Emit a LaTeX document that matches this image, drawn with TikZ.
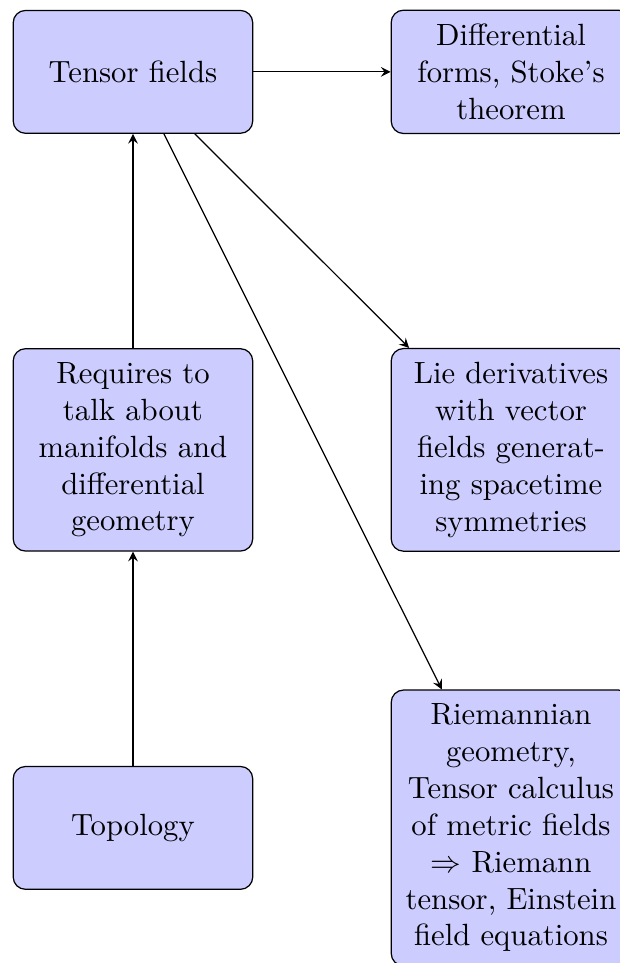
\documentclass[tikz,border=0pt]{standalone}
\begin{document}
\begin{tikzpicture}[line cap=round,line join=round,>=stealth,
	block/.style={rectangle,draw,fill=blue!20,text width=7em,inner xsep=4pt,inner ysep=4.5pt,align=center,rounded corners,minimum height=4em}]
			\def\d{123.1pt}
			\useasboundingbox (-43.3pt,23.4pt) rectangle (158.3pt,-290.2pt);
			\node[block] (tensor) at (0,0) {Tensor fields};
			\node[block] (forms) at (\d,0) {Differential forms, Stoke's theorem};
			\node[block] (manifolds) at (0,-\d) {Requires to talk about manifolds and differential geometry};
			\node[block] (lie) at (\d,-\d) {Lie derivatives with vector fields generating spacetime symmetries};
			\node[block] (topology) at (0,-2*\d) {Topology};
			\node[block] (riemann) at (\d,-2*\d) {Riemannian geometry, Tensor calculus of metric fields $\Rightarrow$ Riemann tensor, Einstein field equations};
			\draw[->] (tensor) -- (forms);
			\draw[->] (manifolds) -- (tensor);
			\draw[->] (topology) -- (manifolds);
			\draw[->] (tensor) -- (lie);
			\draw[->] (tensor) -- (riemann);
		\end{tikzpicture}
\end{document}
